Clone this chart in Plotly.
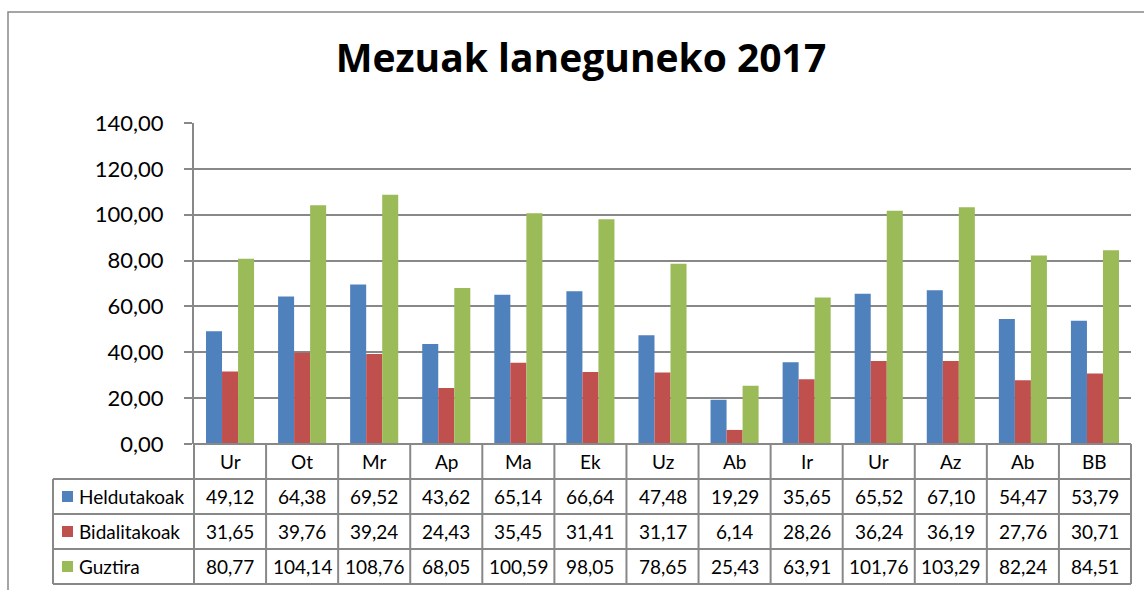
import plotly.graph_objects as go

# ---- data ----
categories = ["Ur", "Ot", "Mr", "Ap", "Ma", "Ek", "Uz", "Ab", "Ir", "Ur", "Az", "Ab", "BB"]
heldutakoak = [49.12, 64.38, 69.52, 43.62, 65.14, 66.64, 47.48, 19.29, 35.65, 65.52, 67.10, 54.47, 53.79]
bidalitakoak = [31.65, 39.76, 39.24, 24.43, 35.45, 31.41, 31.17, 6.14, 28.26, 36.24, 36.19, 27.76, 30.71]
guztira = [80.77, 104.14, 108.76, 68.05, 100.59, 98.05, 78.65, 25.43, 63.91, 101.76, 103.29, 82.24, 84.51]
series_names = ["Heldutakoak", "Bidalitakoak", "Guztira"]
title_text = "Mezuak laneguneko 2017"
y_ticks = [0, 20, 40, 60, 80, 100, 120, 140]

# ---- style ----
colors = ["#4F81BD", "#C0504D", "#9BBB59"]
FONT = "Lato"
GRID = "#888888"
W, H = 1144, 590
L, R, T, B = 194, 13, 123, 146
PW, PH = W - L - R, H - T - B
TABLE_SIZE = 19


def px_x(px):
    return (px - L) / PW


def px_y(py):
    return (H - B - py) / PH


def fmt(v):
    return f"{v:.2f}".replace(".", ",")


x_idx = list(range(len(categories)))
series = [heldutakoak, bidalitakoak, guztira]

fig = go.Figure()
for name, vals, col in zip(series_names, series, colors):
    fig.add_trace(go.Bar(x=x_idx, y=vals, name=name, marker=dict(color=col, line=dict(width=0)),
                         showlegend=False))

shapes = []
annotations = []
line = dict(color=GRID, width=2)

# table geometry (pixels)
row_edges = [444, 479, 514, 549, 584]
left_px = 53
n = len(categories)

# horizontal lines
shapes.append(dict(type="line", xref="paper", yref="paper", x0=0, x1=1,
                   y0=px_y(row_edges[0]), y1=px_y(row_edges[0]), line=line))
for r in row_edges[1:]:
    shapes.append(dict(type="line", xref="paper", yref="paper", x0=px_x(left_px), x1=1,
                       y0=px_y(r), y1=px_y(r), line=line))
# vertical lines
for i in range(n + 1):
    shapes.append(dict(type="line", xref="x domain", yref="paper", x0=i / n, x1=i / n,
                       y0=px_y(row_edges[0]), y1=px_y(row_edges[-1]), line=line))
shapes.append(dict(type="line", xref="paper", yref="paper", x0=px_x(left_px), x1=px_x(left_px),
                   y0=px_y(row_edges[1]), y1=px_y(row_edges[-1]), line=line))

# outer chart border
shapes.append(dict(type="rect", xref="paper", yref="paper", x0=px_x(8), x1=px_x(1160),
                   y0=px_y(12), y1=px_y(610), line=dict(color=GRID, width=1.5)))

txt_font = dict(family=FONT, size=TABLE_SIZE, color="black")

# category labels
cy = (px_y(row_edges[0]) + px_y(row_edges[1])) / 2
for i, c in enumerate(categories):
    annotations.append(dict(x=i, y=cy, xref="x", yref="paper", text=c, showarrow=False,
                            xanchor="center", yanchor="middle", font=txt_font))

# series rows
for k, (name, vals, col) in enumerate(zip(series_names, series, colors)):
    y_c = (px_y(row_edges[k + 1]) + px_y(row_edges[k + 2])) / 2
    yc_px = (row_edges[k + 1] + row_edges[k + 2]) / 2
    shapes.append(dict(type="rect", xref="paper", yref="paper", x0=px_x(62), x1=px_x(73),
                       y0=px_y(yc_px - 5.5), y1=px_y(yc_px + 5.5), fillcolor=col,
                       line=dict(width=0)))
    annotations.append(dict(x=px_x(77), y=y_c, xref="paper", yref="paper", text=name,
                            xanchor="left", yanchor="middle", showarrow=False, font=txt_font))
    for i, v in enumerate(vals):
        annotations.append(dict(x=i, y=y_c, xref="x", yref="paper", text=fmt(v), showarrow=False,
                                xanchor="center", yanchor="middle", font=txt_font))

fig.update_layout(
    width=W, height=H,
    margin=dict(l=L, r=R, t=T, b=B),
    paper_bgcolor="white", plot_bgcolor="white",
    separators=", ",
    barmode="group", bargap=0.333, bargroupgap=0,
    title=dict(text=f"<b>{title_text}</b>", x=581 / W, xref="container", xanchor="center",
               y=1 - 58 / H, yref="container", yanchor="middle",
               font=dict(family="Open Sans", size=39, color="black")),
    xaxis=dict(range=[-0.5, n - 0.5], showticklabels=False, showgrid=False, zeroline=False,
               ticks="", showline=False, fixedrange=True),
    yaxis=dict(range=[0, 140], tickvals=y_ticks, tickformat=".2f", ticks="outside", ticklen=8,
               tickcolor=GRID, tickwidth=2, showline=True, linecolor=GRID, linewidth=2,
               showgrid=True, gridcolor=GRID, gridwidth=2, zeroline=False,
               tickfont=dict(family=FONT, size=22, color="black"), ticklabelstandoff=16),
    shapes=shapes,
    annotations=annotations,
)

fig.write_html("out.html", config={"displayModeBar": False},
               post_script="document.body.style.margin='0';document.body.style.overflow='hidden';")
